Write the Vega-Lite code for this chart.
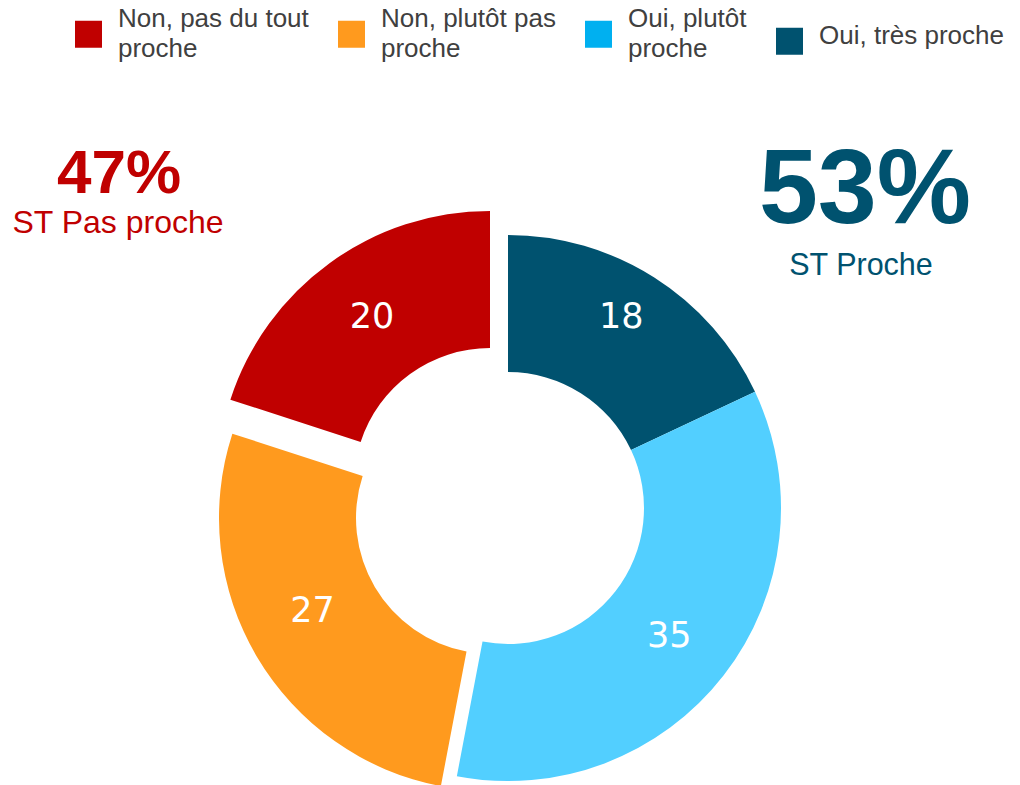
{
  "$schema": "https://vega.github.io/schema/vega-lite/v6.json",
  "width": 1016,
  "height": 556,
  "autosize": "none",
  "padding": {"top": 230, "left": 0, "right": 4, "bottom": 0},
  "background": "white",
  "config": {"view": {"stroke": null}, "font": "Liberation Sans"},
  "datasets": {
    "responses": [
      {"category": "Oui, très proche", "value": 18, "order": 1},
      {"category": "Oui, plutôt proche", "value": 35, "order": 2},
      {"category": "Non, plutôt pas proche", "value": 27, "order": 3},
      {"category": "Non, pas du tout proche", "value": 20, "order": 4}
    ],
    "summary": [
      {"group": "ST Pas proche", "pct": "47%"},
      {"group": "ST Proche", "pct": "53%"}
    ]
  },
  "data": {"name": "responses"},
  "layer": [
    {
      "mark": {"type": "arc", "innerRadius": 0, "outerRadius": 0, "strokeWidth": 0},
      "encoding": {
        "fill": {
          "field": "category",
          "type": "nominal",
          "scale": {
            "domain": ["Non, pas du tout proche", "Non, plutôt pas proche", "Oui, plutôt proche", "Oui, très proche"],
            "range": ["#C00000", "#FF9A1E", "#00B0F0", "#00526F"]
          },
          "legend": {
            "title": null,
            "orient": "none",
            "legendX": 75,
            "legendY": -225,
            "direction": "horizontal",
            "columns": 4,
            "symbolType": "square",
            "symbolSize": 729,
            "symbolStrokeWidth": 0,
            "symbolOpacity": 1,
            "labelFontSize": 26,
            "labelFont": "Liberation Sans",
            "labelColor": "#404040",
            "labelOffset": 16,
            "columnPadding": 29,
            "labelLimit": 400,
            "padding": 0,
            "labelExpr": "datum.label == 'Non, pas du tout proche' ? ['Non, pas du tout', 'proche'] : datum.label == 'Non, plutôt pas proche' ? ['Non, plutôt pas', 'proche'] : datum.label == 'Oui, plutôt proche' ? ['Oui, plutôt', 'proche'] : datum.label",
            "encoding": {
              "symbols": {"y": {"value": 29}},
              "labels": {
                "lineHeight": {"value": 30},
                "dy": {"value": {"expr": "datum.value == 'Oui, très proche' ? 10 : 0"}}
              }
            }
          }
        }
      }
    },
    {
      "transform": [
        {"stack": "value", "groupby": [], "sort": [{"field": "order"}], "as": ["start", "end"]},
        {"filter": "datum.category == 'Oui, très proche' || datum.category == 'Oui, plutôt proche'"}
      ],
      "mark": {"type": "arc", "innerRadius": 136, "outerRadius": 273},
      "encoding": {
        "theta": {"field": "start", "type": "quantitative", "scale": {"domain": [0, 100]}},
        "theta2": {"field": "end"},
        "color": {
          "field": "category",
          "type": "nominal",
          "scale": {
            "domain": ["Non, pas du tout proche", "Non, plutôt pas proche", "Oui, plutôt proche", "Oui, très proche"],
            "range": ["#C00000", "#FF9A1E", "#52CFFF", "#00526F"]
          },
          "legend": null
        }
      }
    },
    {
      "transform": [
        {"stack": "value", "groupby": [], "sort": [{"field": "order"}], "as": ["start", "end"]},
        {"filter": "datum.category == 'Non, plutôt pas proche'"}
      ],
      "mark": {"type": "arc", "innerRadius": 136, "outerRadius": 273, "xOffset": -16, "yOffset": 10},
      "encoding": {
        "theta": {"field": "start", "type": "quantitative", "scale": {"domain": [0, 100]}},
        "theta2": {"field": "end"},
        "color": {"field": "category", "type": "nominal", "legend": null}
      }
    },
    {
      "transform": [
        {"stack": "value", "groupby": [], "sort": [{"field": "order"}], "as": ["start", "end"]},
        {"filter": "datum.category == 'Non, pas du tout proche'"}
      ],
      "mark": {"type": "arc", "innerRadius": 136, "outerRadius": 273, "xOffset": -18, "yOffset": -24},
      "encoding": {
        "theta": {"field": "start", "type": "quantitative", "scale": {"domain": [0, 100]}},
        "theta2": {"field": "end"},
        "color": {"field": "category", "type": "nominal", "legend": null}
      }
    },
    {
      "mark": {
        "type": "text",
        "radius": 204,
        "font": "DejaVu Sans",
        "fontSize": 35,
        "color": "white",
        "align": "center",
        "baseline": "middle",
        "dx": {"expr": "datum.category == 'Non, pas du tout proche' ? -16 : datum.category == 'Non, plutôt pas proche' ? -20 : datum.category == 'Oui, très proche' ? 4 : 0"},
        "dy": {"expr": "datum.category == 'Non, pas du tout proche' ? -26 : datum.category == 'Non, plutôt pas proche' ? -1 : datum.category == 'Oui, très proche' ? -19 : 3"}
      },
      "encoding": {
        "theta": {"field": "value", "type": "quantitative", "stack": true, "scale": {"domain": [0, 100]}},
        "order": {"field": "order"},
        "text": {"field": "value", "type": "quantitative"}
      }
    },
    {
      "data": {"name": "summary"},
      "transform": [{"filter": "datum.group == 'ST Pas proche'"}],
      "mark": {"type": "text", "fontSize": 62, "fontWeight": "bold", "color": "#C00000", "align": "center", "baseline": "alphabetic", "dx": -389, "dy": -315},
      "encoding": {"text": {"field": "pct"}}
    },
    {
      "data": {"name": "summary"},
      "transform": [{"filter": "datum.group == 'ST Pas proche'"}],
      "mark": {"type": "text", "fontSize": 32, "color": "#C00000", "align": "center", "baseline": "alphabetic", "dx": -390, "dy": -275},
      "encoding": {"text": {"field": "group"}}
    },
    {
      "data": {"name": "summary"},
      "transform": [{"filter": "datum.group == 'ST Proche'"}],
      "mark": {"type": "text", "fontSize": 106, "fontWeight": "bold", "color": "#00526F", "align": "center", "baseline": "alphabetic", "dx": 357, "dy": -285},
      "encoding": {"text": {"field": "pct"}}
    },
    {
      "data": {"name": "summary"},
      "transform": [{"filter": "datum.group == 'ST Proche'"}],
      "mark": {"type": "text", "fontSize": 30.5, "color": "#00526F", "align": "center", "baseline": "alphabetic", "dx": 353, "dy": -233},
      "encoding": {"text": {"field": "group"}}
    }
  ]
}
